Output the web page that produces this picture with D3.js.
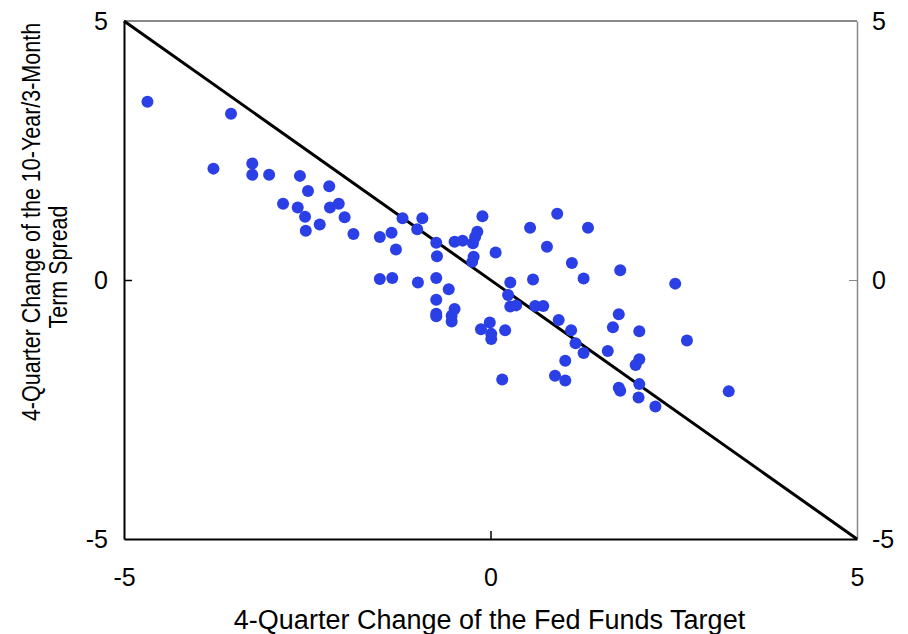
<!DOCTYPE html>
<html lang="en">
<head>
    <meta charset="UTF-8">
    <title>Fed Funds vs Term Spread</title>
    <script src="https://d3js.org/d3.v7.min.js"></script>
    <style>
        body { margin: 0; background: #fff; }
        text { font-family: "Liberation Sans", Arial, sans-serif; fill: #000; }
        .dot { fill: #2b3fe6; }
    </style>
</head>
<body>
    <svg width="908" height="634"></svg>
    <script>
        // 4-quarter change of the fed funds target (x) and of the 10y/3m spread (y)
        var fedChange = [
            -4.68, -3.54, -3.78, -3.25, -3.25, -3.02, -2.60, -2.49, -2.20, -2.83,
            -2.63, -2.53, -2.52, -2.33, -2.19, -2.07, -1.99, -1.87, -1.51, -1.51,
            -1.20, -0.93, -1.00, -1.35, -1.29, -0.74, -0.73, -0.49, -0.38, -0.24,
            -0.21, -0.18, -0.11, -0.23, -0.25, 0.07, 0.54, 0.77, 0.91, -1.34,
            -0.99, -0.74, -0.57, -0.74, -0.74, -0.74, -0.49, -0.53, -0.53, -0.13,
            -0.01, 0.01, 0.01, 0.20, 0.27, 0.24, 0.27, 0.35, 0.58, 0.61,
            0.72, 0.93, 0.16, 0.88, 1.33, 1.11, 1.27, 1.77, 2.52, 1.10,
            1.16, 1.27, 1.02, 1.02, 1.75, 1.67, 2.03, 1.60, 2.03, 1.98,
            2.03, 1.75, 1.77, 2.02, 2.25, 2.68, 3.25
        ];
        var spreadChange = [
            3.44, 3.21, 2.15, 2.25, 2.03, 2.03, 2.01, 1.72, 1.81, 1.47,
            1.40, 1.22, 0.95, 1.07, 1.40, 1.47, 1.21, 0.89, 0.83, 0.02,
            1.19, 1.19, 0.98, 0.91, 0.59, 0.72, 0.46, 0.74, 0.76, 0.71,
            0.83, 0.93, 1.23, 0.45, 0.35, 0.53, 1.01, 0.64, 1.28, 0.04,
            -0.05, 0.04, -0.18, -0.38, -0.65, -0.70, -0.56, -0.69, -0.80, -0.95,
            -0.82, -1.04, -1.14, -0.97, -0.05, -0.29, -0.51, -0.49, 0.01, -0.50,
            -0.50, -0.77, -1.92, -1.85, 1.01, 0.33, 0.03, 0.19, -0.07, -0.97,
            -1.22, -1.41, -1.56, -1.94, -0.66, -0.91, -0.99, -1.37, -1.53, -1.64,
            -2.01, -2.08, -2.14, -2.27, -2.44, -1.17, -2.15
        ];
        var tickVals = [-5, 0, 5];

        var svg = d3.select("svg"),
            plotL = 124, plotT = 21, plotR = 857, plotB = 539;

        var x = d3.scaleLinear().domain([-5, 5]).range([plotL, plotR]);
        var y = d3.scaleLinear().domain([-5, 5]).range([plotB, plotT]);
        var fmt = function(d) { return String(d); };   // plain hyphen minus
        var onlyZero = function(d) { return d == 0 ? null : "none"; };

        // top border (grey)
        svg.append("line")
            .attr("x1", plotL).attr("x2", plotR)
            .attr("y1", plotT).attr("y2", plotT)
            .attr("stroke", "#888").attr("stroke-width", 2);

        var yRight = svg.append("g")
            .attr("transform", "translate(" + plotR + ",0)")
            .call(d3.axisRight(y).tickValues(tickVals).tickSizeOuter(0)
                .tickSizeInner(-8).tickPadding(15).tickFormat(fmt));
        yRight.select(".domain").attr("stroke", "#888").attr("stroke-width", 1.5);
        yRight.selectAll(".tick line").attr("stroke", "#888").style("display", onlyZero);

        var yLeft = svg.append("g")
            .attr("transform", "translate(" + plotL + ",0)")
            .call(d3.axisLeft(y).tickValues(tickVals).tickSizeOuter(0)
                .tickSizeInner(-8).tickPadding(16).tickFormat(fmt));
        yLeft.select(".domain").attr("stroke", "#000").attr("stroke-width", 2);
        yLeft.selectAll(".tick line").attr("stroke", "#000").attr("stroke-width", 1.5)
            .style("display", onlyZero);

        var xAxis = svg.append("g")
            .attr("transform", "translate(0," + plotB + ")")
            .call(d3.axisBottom(x).tickValues(tickVals).tickSizeOuter(0)
                .tickSizeInner(-8).tickPadding(29).tickFormat(fmt));
        xAxis.select(".domain").attr("stroke", "#000").attr("stroke-width", 2);
        xAxis.selectAll(".tick line").attr("stroke", "#000").attr("stroke-width", 1.5)
            .style("display", onlyZero);

        svg.selectAll(".tick text")
            .attr("font-size", "25px")
            .attr("font-family", "'Liberation Sans', Arial, sans-serif")
            .attr("fill", "#000");

        // 45 degree reference line
        svg.append("line")
            .attr("x1", x(-5)).attr("y1", y(5))
            .attr("x2", x(5)).attr("y2", y(-5))
            .attr("stroke", "#000").attr("stroke-width", 3);

        svg.selectAll(".dot")
            .data(d3.range(fedChange.length))
            .enter().append("circle")
            .attr("class", "dot")
            .attr("cx", function(i) { return x(fedChange[i]); })
            .attr("cy", function(i) { return y(spreadChange[i]); })
            .attr("r", 6);

        svg.append("text")
            .attr("x", (plotL + plotR) / 2 - 1)
            .attr("y", 629)
            .attr("text-anchor", "middle")
            .attr("font-size", "27px")
            .text("4-Quarter Change of the Fed Funds Target");

        // y title: the source glyphs look a bit stretched across, hence the scale
        svg.append("text")
            .attr("transform", "translate(40,222) rotate(-90) scale(1,1.2)")
            .attr("text-anchor", "middle")
            .attr("font-size", "21.5px")
            .text("4-Quarter Change of the 10-Year/3-Month");
        svg.append("text")
            .attr("transform", "translate(67,267) rotate(-90) scale(1,1.2)")
            .attr("text-anchor", "middle")
            .attr("font-size", "21.5px")
            .text("Term Spread");
    </script>
</body>
</html>
